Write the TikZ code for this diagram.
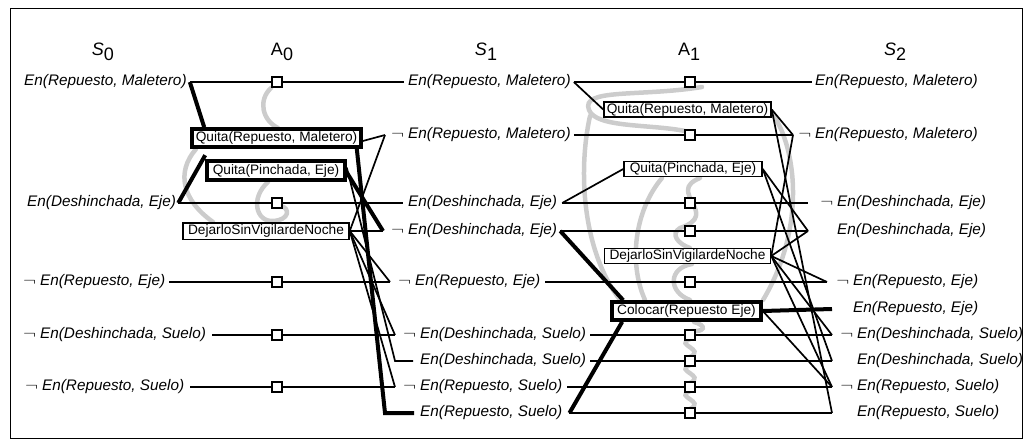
\documentclass[tikz,border=0pt]{standalone}
\usepackage{fontspec}
\usepackage{graphicx}
\setmainfont{Liberation Sans}
\usetikzlibrary{positioning}
\pgfdeclarelayer{bg}
\pgfsetlayers{bg,main}

\newcommand{\litf}{\fontsize{15.3}{18}\selectfont\itshape}
\newcommand{\negsym}{\scalebox{1.35}[1]{$\neg$}}
\newcommand{\nlit}{\llap{\negsym\hspace{4pt}}}
\newcommand{\nlitS}{\negsym\hspace{4pt}}

\tikzset{
  lit/.style={font=\litf, inner sep=0pt, anchor=west},
  act/.style={draw, line width=1.5pt, fill=white, font=\fontsize{13.7}{15}\selectfont,
    inner xsep=2pt, inner ysep=1pt, minimum height=14pt},
  actsol/.style={act, line width=3.6pt},
  noop/.style={draw, line width=1.6pt, fill=white, minimum size=9.5pt, inner sep=0pt},
  lnk/.style={line width=1.7pt},
  sol/.style={line width=4pt},
  mutex/.style={line width=4.5pt, gray!40, line cap=round},
  hdr/.style={font=\fontsize{18}{20}\selectfont}
}

\begin{document}
\begin{tikzpicture}[x=1pt,y=-1pt]
\useasboundingbox (0,0) rectangle (1032,444);
\draw[line width=1pt] (10,9) rectangle (1022,438);

% headers
\node[hdr] (hs0) at (103,52) {\textit{S}\raisebox{-5pt}{0}};
\node[hdr] (ha0) at (282,52) {A\raisebox{-5pt}{0}};
\node[hdr] (hs1) at (486,52) {\textit{S}\raisebox{-5pt}{1}};
\node[hdr] (ha1) at (689,52) {A\raisebox{-5pt}{1}};
\node[hdr] (hs2) at (895,52) {\textit{S}\raisebox{-5pt}{2}};

% level S0
\node[lit] (s0a) at (24,82)  {En(Repuesto, Maletero)};
\node[lit] (s0b) at (27,203) {En(Deshinchada, Eje)};
\node[lit] (s0c) at (23,282) {\nlitS En(Repuesto, Eje)};
\node[lit] (s0d) at (23,335) {\nlitS En(Deshinchada, Suelo)};
\node[lit] (s0e) at (25,387) {\nlitS En(Repuesto, Suelo)};

% level S1
\node[lit] (s1a) at (408,82)  {En(Repuesto, Maletero)};
\node[lit] (s1b) at (408,135) {\nlit En(Repuesto, Maletero)};
\node[lit] (s1c) at (408,203) {En(Deshinchada, Eje)};
\node[lit] (s1d) at (408,231) {\nlit En(Deshinchada, Eje)};
\node[lit] (s1e) at (415,282) {\nlit En(Repuesto, Eje)};
\node[lit] (s1f) at (420,335) {\nlit En(Deshinchada, Suelo)};
\node[lit] (s1g) at (420,361) {En(Deshinchada, Suelo)};
\node[lit] (s1h) at (420,387) {\nlit En(Repuesto, Suelo)};
\node[lit] (s1i) at (420,413) {En(Repuesto, Suelo)};

% level S2
\node[lit] (s2a) at (815,82)  {En(Repuesto, Maletero)};
\node[lit] (s2b) at (815,135) {\nlit En(Repuesto, Maletero)};
\node[lit] (s2c) at (837,203) {\nlit En(Deshinchada, Eje)};
\node[lit] (s2d) at (837,231) {En(Deshinchada, Eje)};
\node[lit] (s2e) at (853,282) {\nlit En(Repuesto, Eje)};
\node[lit] (s2f) at (853,309) {En(Repuesto, Eje)};
\node[lit] (s2g) at (857,335) {\nlit En(Deshinchada, Suelo)};
\node[lit] (s2h) at (857,361) {En(Deshinchada, Suelo)};
\node[lit] (s2i) at (857,387) {\nlit En(Repuesto, Suelo)};
\node[lit] (s2j) at (857,413) {En(Repuesto, Suelo)};

% junctions
\coordinate (j1b) at (385,135);
\coordinate (j1d) at (383,231);
\coordinate (j1e) at (390,282);
\coordinate (j1f) at (395,335);
\coordinate (j1g) at (395,361);
\coordinate (j1h) at (395,387);
\coordinate (j1i) at (385,413);
\coordinate (j2b) at (793,135);
\coordinate (j2c) at (808,203);
\coordinate (j2d) at (808,231);
\coordinate (j2e) at (827,282);
\coordinate (j2f) at (832,309);
\coordinate (j2g) at (832,335);
\coordinate (j2h) at (832,361);
\coordinate (j2i) at (832,387);
\coordinate (j2j) at (832,413);

% no-ops
\foreach \r/\y in {a/82,b/203,c/282,d/335,e/387}
  \node[noop] (n0\r) at (277,\y) {};
\foreach \r/\y in {a/82,b/135,c/203,d/231,e/282,f/335,g/361,h/387,i/413}
  \node[noop] (n1\r) at (690,\y) {};

% actions
\node[actsol, minimum width=169pt, minimum height=18pt] (qrm0) at (276.5,138) {Quita(Repuesto, Maletero)};
\node[actsol, minimum width=138pt, minimum height=19pt] (qpe0) at (276,170.5) {Quita(Pinchada, Eje)};
\node[act, minimum width=166pt, minimum height=16.5pt] (dsv0) at (266,231) {DejarloSinVigilardeNoche};
\node[act, minimum width=167pt] (qrm1) at (687.5,109.5) {Quita(Repuesto, Maletero)};
\node[act, minimum width=138pt] (qpe1) at (693,169) {Quita(Pinchada, Eje)};
\node[act, minimum width=166pt] (dsv1) at (687.5,256) {DejarloSinVigilardeNoche};
\node[actsol, minimum width=149pt, minimum height=18pt] (col1) at (686.5,311) {Colocar(Repuesto Eje)};

% persistence A0
\draw[lnk] ([xshift=3pt]s0a.east) -- (n0a) -- ([xshift=-4pt]s1a.west);
\draw[lnk] ([xshift=2pt]s0b.east) -- (n0b) -- ([xshift=-5pt]s1c.west);
\draw[lnk] ([xshift=4pt]s0c.east) -- (n0c) -- (j1e);
\draw[lnk] ([xshift=6pt]s0d.east) -- (n0d) -- (j1f);
\draw[lnk] ([xshift=6pt]s0e.east) -- (n0e) -- (j1h);

% persistence A1
\draw[lnk] ([xshift=3pt]s1a.east) -- (n1a) -- ([xshift=-3pt]s2a.west);
\draw[lnk] ([xshift=3pt]s1b.east) -- (n1b) -- (j2b);
\draw[lnk] ([xshift=5pt]s1c.east) -- (n1c) -- (j2c);
\draw[lnk] ([xshift=3pt]s1d.east) -- (n1d) -- (j2d);
\draw[lnk] ([xshift=5pt]s1e.east) -- (n1e) -- (j2e);
\draw[lnk] ([xshift=4pt]s1f.east) -- (n1f) -- (j2g);
\draw[lnk] ([xshift=4pt]s1g.east) -- (n1g) -- (j2h);
\draw[lnk] ([xshift=5pt]s1h.east) -- (n1h) -- (j2i);
\draw[lnk] ([xshift=7pt]s1i.east) -- (n1i) -- (j2j);

% preconditions
\draw[sol] ([xshift=3pt]s0a.east) -- ([xshift=14pt]qrm0.north west);
\draw[sol] ([xshift=2pt]s0b.east) -- ([yshift=4pt]qpe0.north west);
\draw[lnk] ([xshift=3pt]s1a.east) -- (qrm1.west);
\draw[lnk] ([xshift=5pt]s1c.east) -- (qpe1.west);
\draw[sol] ([xshift=3pt]s1d.east) -- ([xshift=13pt]col1.north west);
\draw[sol] ([xshift=7pt]s1i.east) -- ([xshift=12pt]col1.south west);

% effects A0
\draw[lnk] ([yshift=-3pt]qrm0.east) -- (j1b);
\draw[sol] ([xshift=-6pt]qrm0.south east) -- (j1i) -- ([xshift=-6pt]s1i.west);
\draw[sol] ([yshift=-2pt]qpe0.east) -- (j1d);
\draw[lnk] ([yshift=3pt]qpe0.east) -- (j1g) -- ([xshift=-7pt]s1g.west);
\foreach \j in {j1b,j1d,j1e,j1f,j1h}
  \draw[lnk] (dsv0.east) -- (\j);

% effects A1
\draw[lnk] (qrm1.east) -- (j2b);
\draw[lnk] (qrm1.east) -- (j2j);
\draw[lnk] (qpe1.east) -- (j2d);
\draw[lnk] (qpe1.east) -- (j2h);
\foreach \j in {j2b,j2d,j2e,j2g,j2i}
  \draw[lnk] (dsv1.east) -- (\j);
\draw[sol] (col1.east) -- (j2f);
\draw[lnk] (col1.east) -- (j2i);

% mutex
\begin{pgfonlayer}{bg}
\draw[mutex] (271,88) .. controls (258,100) and (262,120) .. (278,128);
\draw[mutex] (196,149) .. controls (176,172) and (182,200) .. (213,222);
\draw[mutex] (268,182) .. controls (250,198) and (256,222) .. (273,221)
  .. controls (290,220) and (290,208) .. (281,206);
\draw[mutex] (702,87) .. controls (640,97) and (580,88) .. (589,110)
  .. controls (596,128) and (650,124) .. (685,131);
\draw[mutex] (590,116) .. controls (578,170) and (582,250) .. (620,300);
\draw[mutex] (772,113) .. controls (798,150) and (805,230) .. (763,300);
\draw[mutex] (662,178) .. controls (635,210) and (628,262) .. (645,300);
\draw[mutex] (700,178) .. controls (665,192) and (722,214) .. (680,228)
  .. controls (670,234) and (678,244) .. (690,248);
\draw[mutex] (692,264) .. controls (668,268) and (668,292) .. (690,300);
\draw[mutex] (694,322) .. controls (708,326) and (704,332) .. (692,331);
\foreach \y in {339,365,391}
  \draw[mutex] (690,\y) .. controls (674,\y+6) and (706,\y+10) .. (690,\y+18);
\end{pgfonlayer}
\end{tikzpicture}
\end{document}
